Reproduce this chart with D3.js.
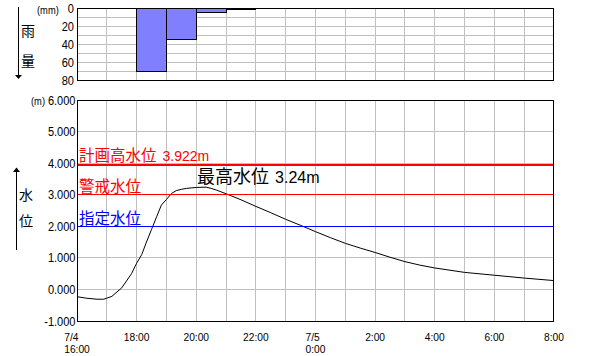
<!DOCTYPE html>
<html><head><meta charset="utf-8">
<script src="https://cdn.jsdelivr.net/npm/d3@7"></script>
<style>body{margin:0;background:#fff}svg{display:block}</style>
</head><body><svg id="c" width="602" height="356"></svg>
<script>
// ---- data ----
const rainStartHours = [0,1,2,3,4,5,6,7,8,9,10,11,12,13,14,15];
const rainValues     = [0,0,70,35,5,2,0,0,0,0,0,0,0,0,0,0];
const rainTicks = [0,20,40,60,80];
const levelTicks = [6,5,4,3,2,1,0,-1];
const xTickHours = [0,2,4,6,8,10,12,14,16];
const xTickLabels = [["7/4","16:00"],["18:00"],["20:00"],["22:00"],["7/5","0:00"],["2:00"],["4:00"],["6:00"],["8:00"]];
const levelHours  = [0,0.33,0.67,0.9,1.17,1.5,1.83,2.0,2.17,2.33,2.5,2.67,2.83,3.0,3.17,3.33,3.5,3.67,4.0,4.33,4.5,4.67,5.0,5.5,6.0,6.5,7.0,7.5,8.0,8.5,9.0,9.5,10.0,10.5,11.0,11.5,12.0,13.0,14.0,15.0,16.0];
const levelValues = [-0.23,-0.28,-0.31,-0.31,-0.22,0.05,0.5,0.83,1.1,1.5,1.9,2.3,2.67,2.85,3.04,3.13,3.17,3.2,3.23,3.24,3.2,3.15,3.03,2.84,2.63,2.43,2.22,2.03,1.83,1.64,1.46,1.31,1.17,1.02,0.88,0.77,0.68,0.54,0.45,0.36,0.28];
const refNames  = ["計画高水位","警戒水位","指定水位"];
const refValues = [3.922, 3.0, 2.0];
const peakName = "最高水位";
const peakValue = 3.24;

// ---- drawing ----
const svg = d3.select("#c");
svg.append("rect").attr("width",602).attr("height",356).attr("fill","#fff");
const num = '"Liberation Sans",Arial,sans-serif';
const jp = '"Noto Sans CJK JP","Noto Sans CJK SC",sans-serif';
const pf = v => Math.floor(v) + 0.5;
const SX = 0.85;
function ntext(g, xx, yy, s, size, anchor){
  return g.append("text")
    .attr("transform",`translate(${xx},${yy}) scale(${SX},1)`)
    .attr("text-anchor",anchor||"start")
    .attr("font-family",num).attr("font-size",size).text(s);
}

const x  = d3.scaleLinear().domain([0,16]).range([77,554]);
const yr = d3.scaleLinear().domain([0,80]).range([8,80]);
const yw = d3.scaleLinear().domain([-1,6]).range([321,100]);

// Rain chart
const gR = svg.append("g");
gR.selectAll("line.v").data(d3.range(1,16)).join("line")
  .attr("x1",d=>pf(x(d))).attr("x2",d=>pf(x(d))).attr("y1",8).attr("y2",80)
  .attr("stroke","#c0c0c0");
gR.selectAll("line.h").data(d3.range(10,80,10)).join("line")
  .attr("y1",d=>pf(yr(d))).attr("y2",d=>pf(yr(d))).attr("x1",77).attr("x2",554)
  .attr("stroke","#c0c0c0");
gR.selectAll("rect.bar").data(rainStartHours.map((h,i)=>({h,v:rainValues[i]})).filter(d=>d.v>0)).join("rect")
  .attr("x",d=>pf(x(d.h))).attr("width",d=>pf(x(d.h+1))-pf(x(d.h)))
  .attr("y",pf(yr(0))).attr("height",d=>pf(yr(d.v))-pf(yr(0)))
  .attr("fill","#8080ff").attr("stroke","#000");
gR.append("rect").attr("x",77.5).attr("y",8.5).attr("width",476).attr("height",72)
  .attr("fill","none").attr("stroke","#000");
rainTicks.forEach(d=>ntext(gR, 74, yr(d)+4.5, d, 13, "end"));
ntext(gR, 37, 13.5, "(mm)", 11);

// Water chart
const gW = svg.append("g");
gW.selectAll("line.v").data(d3.range(1,16)).join("line")
  .attr("x1",d=>pf(x(d))).attr("x2",d=>pf(x(d))).attr("y1",100).attr("y2",321)
  .attr("stroke","#c0c0c0");
gW.selectAll("line.h").data(levelTicks.filter(d=>d>-1&&d<6)).join("line")
  .attr("y1",d=>pf(yw(d))).attr("y2",d=>pf(yw(d))).attr("x1",77).attr("x2",554)
  .attr("stroke","#c0c0c0");

gW.append("path").datum(levelHours.map((h,i)=>[h,levelValues[i]]))
  .attr("d", d3.line().x(d=>x(d[0])).y(d=>yw(d[1])))
  .attr("fill","none").attr("stroke","#000").attr("stroke-width",1);

const refColor = ["#ff0000","#ff0000","#0000ff"];
refValues.forEach((v,i)=>{
  const yy = i===0 ? Math.floor(yw(v)) : pf(yw(v));
  gW.append("line").attr("x1",78).attr("x2",553).attr("y1",yy).attr("y2",yy)
    .attr("stroke",refColor[i]).attr("stroke-width", i===0?2:1)
    .attr("shape-rendering","crispEdges");
  const t = gW.append("text").attr("x",79).attr("y", i===0 ? yy-4 : yy-3)
    .attr("fill",refColor[i]).attr("font-family",jp).attr("font-size",15.5).text(refNames[i]);
  if(i===0){
    t.append("tspan").attr("font-family",num).attr("font-size",14)
      .attr("dx",6).text(v.toFixed(3)+"m");
  }
});

const pi = d3.maxIndex(levelValues);
const pt = gW.append("text").attr("x", x(levelHours[pi]) - 9).attr("y", yw(peakValue) - 4)
  .attr("fill","#000").attr("font-family",jp).attr("font-size",18).text(peakName);
pt.append("tspan").attr("font-family",num).attr("font-size",16)
  .attr("dx",6).text(peakValue.toFixed(2)+"m");

gW.append("rect").attr("x",77.5).attr("y",100.5).attr("width",476).attr("height",221)
  .attr("fill","none").attr("stroke","#000");
levelTicks.forEach(d=>ntext(gW, 75.5, yw(d)+4.5, d.toFixed(3), 13, "end"));
ntext(gW, 31, 104.5, "(m)", 11);

// x tick labels (multi-line labels as one text with tspans)
const gX = svg.append("g");
const XS = 0.93;
xTickHours.forEach((h,i)=>{
  const lines = xTickLabels[i];
  const t = gX.append("text").attr("font-family",num).attr("font-size",11);
  const sp = lines.map((s,k)=>t.append("tspan").attr("x",0).attr("dy", k===0?0:12.5).text(s));
  const w = d3.max(sp, s=>s.node().getComputedTextLength()) * XS;
  t.attr("transform",`translate(${x(h) - w/2},341) scale(${XS},1)`);
});

// side labels and arrows
const gS = svg.append("g");
gS.append("line").attr("x1",18.5).attr("x2",18.5).attr("y1",7).attr("y2",76).attr("stroke","#000");
gS.append("path").attr("d","M15,75 L22,75 L18.5,79 Z").attr("fill","#000");
gS.append("line").attr("x1",16.5).attr("x2",16.5).attr("y1",171).attr("y2",250).attr("stroke","#000");
gS.append("path").attr("d","M13,172 L20,172 L16.5,167.5 Z").attr("fill","#000");
[["雨",28,31],["量",28,61],["水",26,195],["位",26,221.5]].forEach(d=>{
  gS.append("text").attr("x",d[1]).attr("y",d[2]).attr("dy","0.35em").attr("text-anchor","middle")
    .attr("font-family",jp).attr("font-size",14).text(d[0]);
});
</script></body></html>
